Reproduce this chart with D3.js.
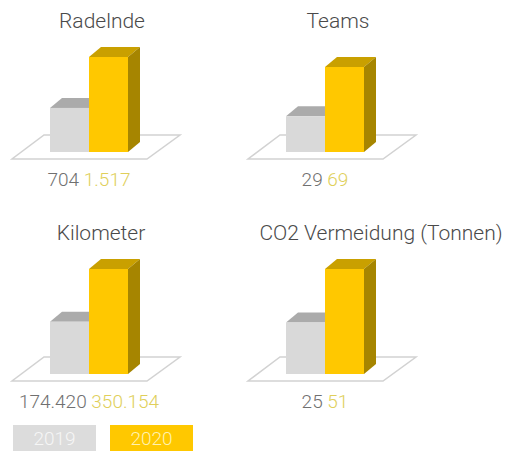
<!DOCTYPE html>
<html>
<head>
<meta charset="utf-8">
<script src="https://cdn.jsdelivr.net/npm/d3@7"></script>
<style>
  body { margin: 0; background: #fff; }
  text { font-family: Roboto, "Liberation Sans", sans-serif; font-weight: 300; }
</style>
</head>
<body>
<svg id="chart"></svg>
<script>
// data
const titles = ["Radelnde", "Teams", "Kilometer", "CO2 Vermeidung (Tonnen)"];
const years = ["2019", "2020"];
const values2019 = [704, 29, 174420, 25];
const values2020 = [1517, 69, 350154, 51];

// layout per panel (not data)
const width = 513;
const height = 454;
const panelX = [0, 236, 0, 236];
const panelY = [0, 0, 222, 222];
const titleX = [102, 338, 101, 381];
const maxBarH = [95, 85, 105, 105];

const colors = {
    gray: { front: "#d9d9d9", top: "#ababab", side: "#9a9a9a" },
    yellow: { front: "#ffc800", top: "#c9a000", side: "#a68500" }
};

const de = d3.formatLocale({ decimal: ",", thousands: ".", grouping: [3], currency: ["", " €"] });
const fmt = de.format(",");

const svg = d3.select("#chart")
    .attr("width", width)
    .attr("height", height)
    .attr("viewBox", [0, 0, width, height]);

const depthX = 12, depthY = -10;
const baseY = 152;      // bar bottom inside panel

// x scale for the two bars within a panel
const x = d3.scaleBand().domain(years).range([50, 128]).padding(0);

titles.forEach(function (t, i) {
    const g = svg.append("g")
        .attr("transform", "translate(" + panelX[i] + "," + panelY[i] + ")");

    // title
    svg.append("text")
        .attr("x", titleX[i])
        .attr("y", panelY[i] + 28 + (i > 1 ? -10 : 0))
        .attr("text-anchor", "middle")
        .attr("font-size", 21)
        .attr("fill", "#4a4a4a")
        .text(t);

    // floor
    const floor = [[12, 159], [147, 159], [180, 135], [44, 135]];
    g.append("path")
        .attr("d", "M" + floor.join("L") + "Z")
        .attr("fill", "#fff")
        .attr("stroke", "#d2d2d2")
        .attr("stroke-width", 1.5);

    const y = d3.scaleLinear()
        .domain([0, Math.max(values2019[i], values2020[i])])
        .range([0, maxBarH[i]]);

    const bars = [
        { year: "2019", v: values2019[i], c: colors.gray },
        { year: "2020", v: values2020[i], c: colors.yellow }
    ];

    bars.forEach(function (b) {
        const x0 = x(b.year), x1 = x0 + x.bandwidth();
        const top = baseY - y(b.v);
        const bg = g.append("g");
        // top face
        bg.append("path")
            .attr("d", "M" + [[x0, top], [x1, top], [x1 + depthX, top + depthY], [x0 + depthX, top + depthY]].join("L") + "Z")
            .attr("fill", b.c.top);
        // side face
        bg.append("path")
            .attr("d", "M" + [[x1, top], [x1 + depthX, top + depthY], [x1 + depthX, baseY + depthY], [x1, baseY]].join("L") + "Z")
            .attr("fill", b.c.side);
        // front face
        bg.append("rect")
            .attr("x", x0)
            .attr("y", top)
            .attr("width", x.bandwidth())
            .attr("height", y(b.v))
            .attr("fill", b.c.front);
    });

    // value labels
    const lbl = g.append("text")
        .attr("x", 89)
        .attr("y", 186)
        .attr("text-anchor", "middle")
        .attr("font-size", 19);
    lbl.append("tspan").attr("fill", "#707070").text(fmt(values2019[i]) + " ");
    lbl.append("tspan").attr("fill", "#e0cf5a").text(fmt(values2020[i]));
});

// legend
const legendX = [13, 110];
const legendFill = ["#dcdcdc", "#ffc800"];
const legendText = ["#f6f6f6", "#fff2b0"];
years.forEach(function (yr, i) {
    svg.append("rect")
        .attr("x", legendX[i])
        .attr("y", 425)
        .attr("width", 83)
        .attr("height", 26)
        .attr("fill", legendFill[i]);
    svg.append("text")
        .attr("x", legendX[i] + 41.5)
        .attr("y", 445)
        .attr("text-anchor", "middle")
        .attr("font-size", 19)
        .attr("font-weight", 400)
        .attr("fill", legendText[i])
        .text(yr);
});
</script>
</body>
</html>
